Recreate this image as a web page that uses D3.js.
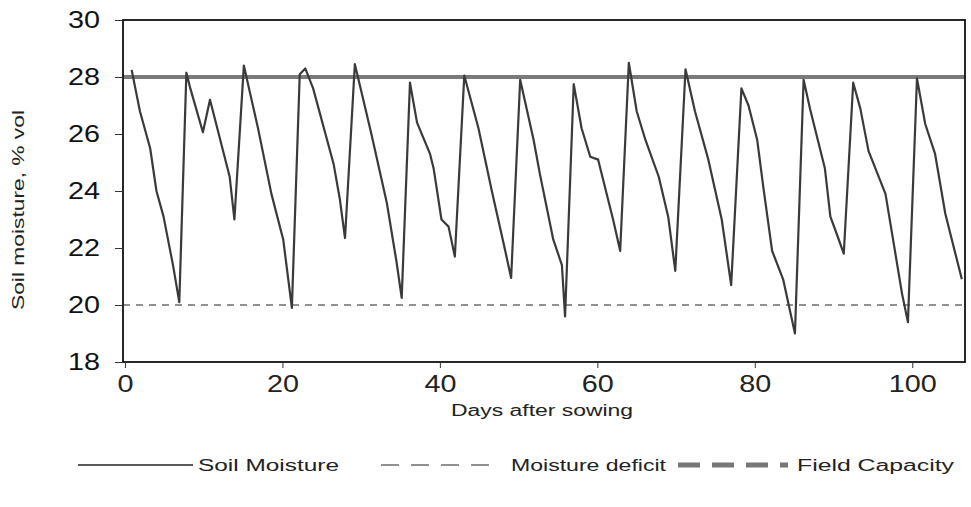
<!DOCTYPE html>
<html><head><meta charset="utf-8">
<script src="https://cdn.jsdelivr.net/npm/d3@7"></script>
<style>body{margin:0;background:#fff}svg{display:block}text{font-family:"Liberation Sans",Arial,sans-serif}</style>
</head><body><svg id="c" width="971" height="507"></svg>
<script>
const days = [0.85,1.9,3.2,4.0,4.9,6.1,6.9,7.8,8.3,9.9,10.8,12.1,13.3,13.9,15.1,16.9,18.6,20.1,21.2,22.2,22.9,23.9,26.5,27.3,27.95,29.2,30.1,31.3,33.25,34.5,35.15,36.2,37.1,38.75,39.2,40.2,41.1,41.9,43.1,44.9,46.6,48.3,49.05,50.2,51.9,52.7,54.4,55.5,55.9,57.0,58.0,59.1,60.1,62.0,62.9,64.0,65.0,66.1,67.8,69.0,69.9,71.2,72.4,74.1,75.8,77.0,78.3,79.2,80.3,81.1,82.2,83.6,85.1,86.2,87.0,88.9,89.6,90.4,91.3,92.5,93.4,94.45,96.6,98.7,99.45,100.6,101.65,102.9,104.2,106.3];
const moisture = [28.25,26.8,25.5,24.0,23.1,21.4,20.1,28.15,27.6,26.06,27.2,25.8,24.5,23.0,28.4,26.2,23.9,22.3,19.9,28.1,28.3,27.6,24.95,23.7,22.35,28.45,27.4,26.0,23.6,21.5,20.25,27.8,26.4,25.3,24.8,23.0,22.75,21.7,28.05,26.2,24.0,21.9,20.95,27.9,25.8,24.6,22.3,21.4,19.6,27.75,26.2,25.2,25.1,23.0,21.9,28.5,26.8,25.8,24.5,23.1,21.2,28.27,26.8,25.1,23.0,20.7,27.6,27.0,25.8,24.1,21.9,20.9,19.0,27.9,26.9,24.8,23.1,22.5,21.8,27.8,26.9,25.4,23.9,20.4,19.4,27.95,26.35,25.3,23.2,20.9];
const fieldCapacity = 28;
const moistureDeficit = 20;
const xTicks = [0,20,40,60,80,100];
const yTicks = [18,20,22,24,26,28,30];
const legendLabels = ["Soil Moisture","Moisture deficit","Field Capacity"];

const svg = d3.select("#c");
const L=123,R=965,T=20,B=362;
const x = d3.scaleLinear().domain([-0.25,106.7]).range([L,R]);
const y = d3.scaleLinear().domain([18,30]).range([B,T]);

// reference lines
svg.append("line").attr("x1",L).attr("x2",R).attr("y1",y(moistureDeficit)).attr("y2",y(moistureDeficit))
  .attr("stroke","#222").attr("stroke-width",1).attr("stroke-dasharray","7,6");
svg.append("line").attr("x1",L).attr("x2",R).attr("y1",y(fieldCapacity)).attr("y2",y(fieldCapacity))
  .attr("stroke","#7a7a7a").attr("stroke-width",4);

// series
const pts = days.map((d,i)=>[d,moisture[i]]);
svg.append("clipPath").attr("id","cp").append("rect").attr("x",L).attr("y",T).attr("width",R-L).attr("height",B-T);
svg.append("path").datum(pts).attr("clip-path","url(#cp)")
  .attr("d",d3.line().x(d=>x(d[0])).y(d=>y(d[1])).curve(d3.curveLinear))
  .attr("fill","none").attr("stroke","#3a3a3a").attr("stroke-width",2.2).attr("stroke-linejoin","round");

// frame
svg.append("rect").attr("x",L).attr("y",T).attr("width",R-L).attr("height",B-T)
  .attr("fill","none").attr("stroke","#111").attr("stroke-width",1.8);

// axes
const ya = svg.append("g").attr("transform",`translate(${L},0)`)
  .call(d3.axisLeft(y).tickValues(yTicks).tickSize(8).tickPadding(15).tickFormat(d3.format("d")));
ya.select(".domain").remove();
ya.selectAll("text").attr("font-size",24).attr("fill","#111").attr("textLength",32).attr("lengthAdjust","spacingAndGlyphs");
ya.selectAll("line").attr("stroke","#333");

const xa = svg.append("g").attr("transform",`translate(0,${B})`)
  .call(d3.axisBottom(x).tickValues(xTicks).tickSize(6).tickPadding(8).tickFormat(d3.format("d")));
xa.select(".domain").remove();
xa.selectAll("text").attr("font-size",23).attr("fill","#222")
  .each(function(d){ const s=String(d).length; d3.select(this).attr("textLength",s*16).attr("lengthAdjust","spacingAndGlyphs"); });
xa.selectAll("line").attr("stroke","#333");

// titles
svg.append("text").attr("x",(L+R)/2-2).attr("y",416).attr("text-anchor","middle").attr("font-size",16)
  .attr("fill","#222").attr("textLength",182).attr("lengthAdjust","spacingAndGlyphs").text("Days after sowing");
svg.append("text").attr("transform","translate(24,210) rotate(-90)").attr("text-anchor","middle").attr("font-size",16)
  .attr("fill","#222").attr("textLength",200).attr("lengthAdjust","spacingAndGlyphs").text("Soil moisture, % vol");

// legend
const ly = 465;
const lg = svg.append("g");
lg.append("line").attr("x1",78).attr("x2",193).attr("y1",ly).attr("y2",ly).attr("stroke","#222").attr("stroke-width",1.5);
lg.append("line").attr("x1",381).attr("x2",495).attr("y1",ly).attr("y2",ly).attr("stroke","#222").attr("stroke-width",1).attr("stroke-dasharray","18,12");
lg.append("line").attr("x1",678).attr("x2",788).attr("y1",ly).attr("y2",ly).attr("stroke","#777").attr("stroke-width",5).attr("stroke-dasharray","22,12");
const lx=[198,511,797], lw=[141,155,157];
legendLabels.forEach((t,i)=>{
  lg.append("text").attr("x",lx[i]).attr("y",ly+6).attr("font-size",16).attr("fill","#222")
    .attr("textLength",lw[i]).attr("lengthAdjust","spacingAndGlyphs").text(t);
});
</script></body></html>
